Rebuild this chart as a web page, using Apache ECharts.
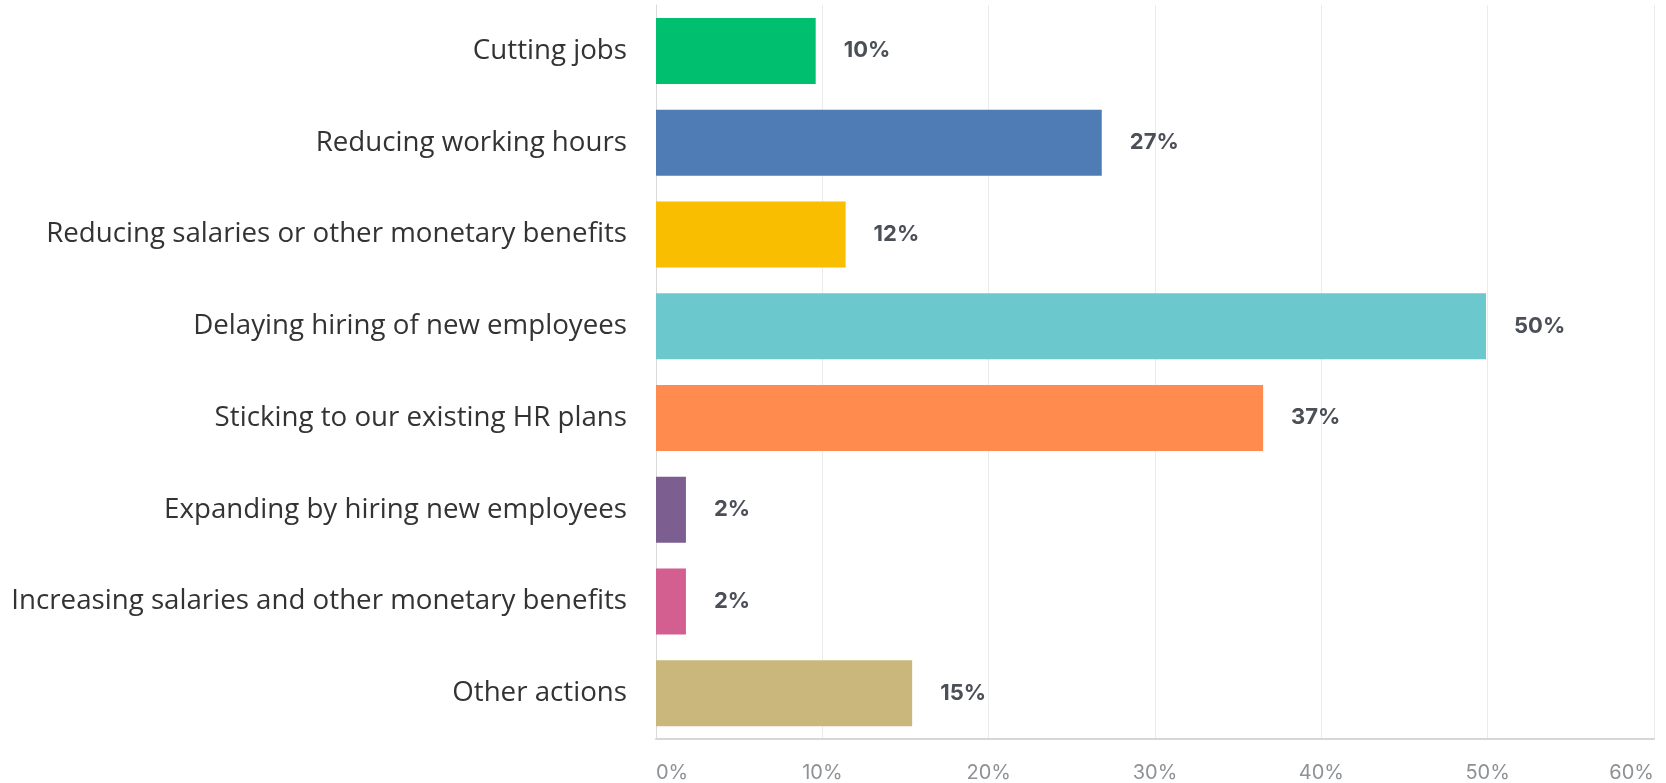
<!DOCTYPE html>
<html>
<head>
<meta charset="utf-8">
<script src="https://cdn.jsdelivr.net/npm/echarts@6/dist/echarts.min.js"></script>
<style>
html,body{margin:0;padding:0;background:#fff;}
#chart{width:1666px;height:783px;}
</style>
</head>
<body>
<div id="chart"></div>
<script>
const categories = [
  "Cutting jobs",
  "Reducing working hours",
  "Reducing salaries or other monetary benefits",
  "Delaying hiring of new employees",
  "Sticking to our existing HR plans",
  "Expanding by hiring new employees",
  "Increasing salaries and other monetary benefits",
  "Other actions"
];
const values = [9.6, 26.8, 11.4, 49.9, 36.5, 1.8, 1.8, 15.4];
const valueLabels = ["10%", "27%", "12%", "50%", "37%", "2%", "2%", "15%"];
const barColors = ["#00BF6F", "#507CB6", "#F9BE00", "#6BC8CD", "#FF8B4F", "#7D5E90", "#D25F90", "#C9B77B"];
const xTicks = { min: 0, max: 60, interval: 10 };

const chart = echarts.init(document.getElementById('chart'), null, {renderer: 'canvas'});
chart.setOption({
  animation: false,
  backgroundColor: '#ffffff',
  grid: { left: 656, right: 12, top: 5, bottom: 43, containLabel: false },
  xAxis: {
    type: 'value',
    min: xTicks.min, max: xTicks.max, interval: xTicks.interval,
    axisLine: { show: true, lineStyle: { color: '#d6d6d6', width: 2 } },
    axisTick: { show: false },
    splitLine: { show: true, lineStyle: { color: '#ebebeb', width: 1 } },
    axisLabel: {
      formatter: '{value}%',
      color: '#8e9297',
      fontFamily: 'Inter',
      fontSize: 20,
      margin: 24,
      alignMinLabel: 'left',
      alignMaxLabel: 'right'
    }
  },
  yAxis: {
    type: 'category',
    data: categories,
    inverse: true,
    axisLine: { show: true, lineStyle: { color: '#d9d9d9', width: 1 } },
    axisTick: { show: false },
    axisLabel: {
      color: '#333333',
      fontFamily: 'Open Sans',
      fontSize: 27.7,
      margin: 29
    }
  },
  series: [{
    type: 'bar',
    data: values.map((v, i) => ({ value: v, itemStyle: { color: barColors[i] } })),
    barWidth: 66,
    label: {
      show: true,
      position: 'right',
      distance: 28,
      formatter: p => valueLabels[p.dataIndex],
      color: '#4b5058',
      fontFamily: 'Inter',
      fontWeight: 'bold',
      fontSize: 22
    }
  }]
});
</script>
</body>
</html>
